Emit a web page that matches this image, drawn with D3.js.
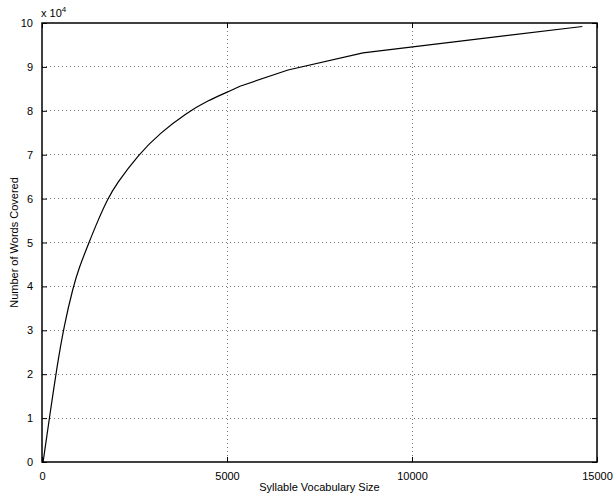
<!DOCTYPE html>
<html>
<head>
<meta charset="utf-8">
<script src="https://cdn.jsdelivr.net/npm/d3@7"></script>
<style>
  body { margin: 0; background: #fff; }
  svg text { font-family: "Liberation Sans", Arial, sans-serif; fill: #000; }
</style>
</head>
<body>
<div id="chart"></div>
<script>
// vocabulary size (x) and words covered in units of 1e4 (y)
var vocabSize = [30, 200, 400, 600, 846, 1000, 1270, 1500, 1780, 2000, 2600, 3200, 3900, 4500, 5000, 5351, 6650, 8676, 14603];
var wordsCovered = [0, 1.0, 2.15, 3.12, 4.0, 4.42, 5.0, 5.48, 6.0, 6.32, 7.0, 7.5, 7.95, 8.24, 8.42, 8.56, 8.93, 9.32, 9.92];
var smoothUntil = 15; // index where the curve turns into straight segments
var xTicks = [0, 5000, 10000, 15000];
var yTicks = [0, 1, 2, 3, 4, 5, 6, 7, 8, 9, 10];

var W = 616, H = 494;
var margin = { top: 23, right: 19, bottom: 32, left: 42 };
var width = W - margin.left - margin.right,
  height = H - margin.top - margin.bottom;

var svg = d3.select("#chart").append("svg")
  .attr("width", W)
  .attr("height", H);

var g = svg.append("g")
  .attr("transform", "translate(" + margin.left + "," + margin.top + ")");

var x = d3.scaleLinear().domain([0, 15000]).range([0, width]);
var y = d3.scaleLinear().domain([0, 10]).range([height, 0]);

// dotted grid lines
g.selectAll("line.gx").data(xTicks.slice(1, -1)).enter().append("line")
  .attr("class", "gx")
  .attr("x1", function (d) { return x(d); }).attr("x2", function (d) { return x(d); })
  .attr("y1", 0).attr("y2", height)
  .attr("stroke", "#777").attr("stroke-width", 1).attr("stroke-dasharray", "1,3")
  .attr("shape-rendering", "crispEdges");

g.selectAll("line.gy").data(yTicks.slice(1, -1)).enter().append("line")
  .attr("class", "gy")
  .attr("y1", function (d) { return y(d); }).attr("y2", function (d) { return y(d); })
  .attr("x1", 0).attr("x2", width)
  .attr("stroke", "#777").attr("stroke-width", 1).attr("stroke-dasharray", "1,3")
  .attr("shape-rendering", "crispEdges");

// axes with inward ticks (matlab style)
function styleAxis(sel) {
  sel.select(".domain").remove();
  sel.selectAll("line").attr("stroke", "#000");
  sel.selectAll("text").style("font-size", "11px").style("font-family", "Liberation Sans, Arial, sans-serif");
}

g.append("g")
  .attr("transform", "translate(0," + height + ")")
  .call(d3.axisBottom(x).tickValues(xTicks).tickSizeInner(-5).tickSizeOuter(0).tickPadding(10).tickFormat(d3.format("d")))
  .call(styleAxis);

g.append("g")
  .call(d3.axisTop(x).tickValues(xTicks).tickSizeInner(-5).tickSizeOuter(0).tickFormat(""))
  .call(styleAxis);

g.append("g")
  .call(d3.axisLeft(y).tickValues(yTicks).tickSizeInner(-5).tickSizeOuter(0).tickPadding(9).tickFormat(d3.format("d")))
  .call(styleAxis);

g.append("g")
  .attr("transform", "translate(" + width + ",0)")
  .call(d3.axisRight(y).tickValues(yTicks).tickSizeInner(-5).tickSizeOuter(0).tickFormat(""))
  .call(styleAxis);

// box
g.append("rect")
  .attr("x", 0).attr("y", 0).attr("width", width).attr("height", height)
  .attr("fill", "none").attr("stroke", "#000").attr("stroke-width", 1.5);

// curve: smooth head, straight tail
var pts = vocabSize.map(function (v, i) { return [v, wordsCovered[i]]; });

var smoothLine = d3.line()
  .x(function (d) { return x(d[0]); })
  .y(function (d) { return y(d[1]); })
  .curve(d3.curveBasis);

var straightLine = d3.line()
  .x(function (d) { return x(d[0]); })
  .y(function (d) { return y(d[1]); });

g.append("path")
  .datum(pts.slice(0, smoothUntil + 1))
  .attr("fill", "none")
  .attr("stroke", "#000")
  .attr("stroke-width", 1.2)
  .attr("d", smoothLine);

g.append("path")
  .datum(pts.slice(smoothUntil))
  .attr("fill", "none")
  .attr("stroke", "#000")
  .attr("stroke-width", 1.2)
  .attr("d", straightLine);

// exponent label
var expo = svg.append("text")
  .attr("x", margin.left - 1)
  .attr("y", 17)
  .style("font-size", "11px");
expo.append("tspan").text("x 10");
expo.append("tspan").attr("dy", -5).style("font-size", "8px").text("4");

// axis titles
svg.append("text")
  .attr("x", margin.left + width / 2)
  .attr("y", 491)
  .attr("text-anchor", "middle")
  .style("font-size", "11px")
  .text("Syllable Vocabulary Size");

svg.append("text")
  .attr("transform", "translate(18," + (margin.top + height / 2) + ") rotate(-90)")
  .attr("text-anchor", "middle")
  .style("font-size", "11px")
  .text("Number of Words Covered");
</script>
</body>
</html>
